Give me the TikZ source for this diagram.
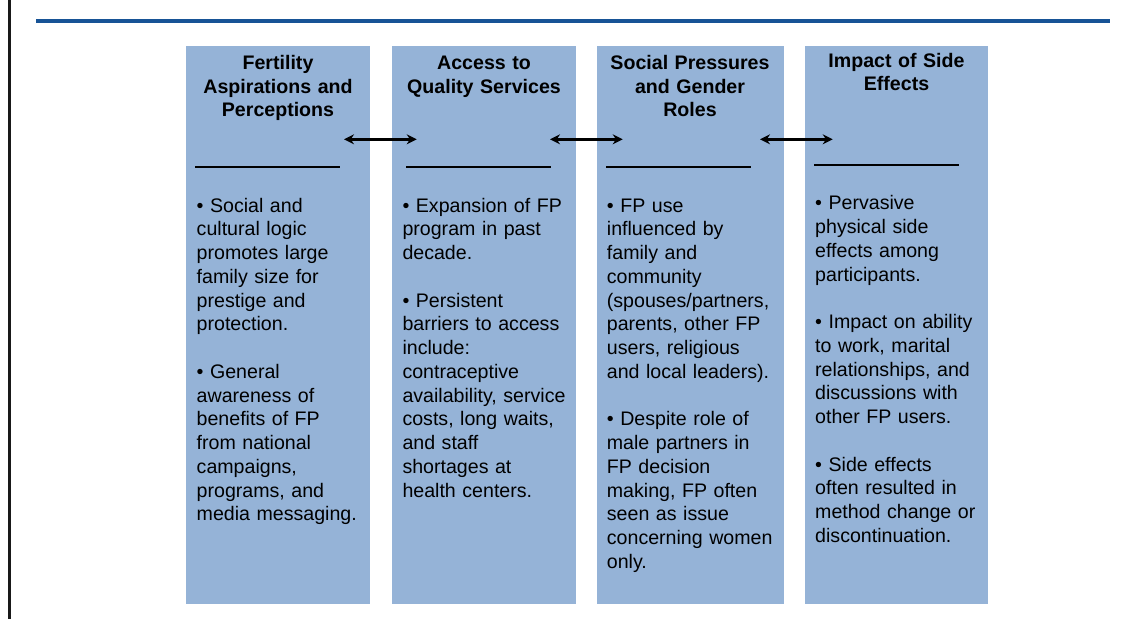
\documentclass[tikz,border=0pt]{standalone}
\usepackage{fontspec}
\setmainfont{Liberation Sans}
\usetikzlibrary{arrows.meta}
\definecolor{boxblue}{HTML}{95B3D7}
\definecolor{ruleblue}{RGB}{23,83,150}
\tikzset{
  colbox/.style={draw=none, fill=boxblue, inner sep=0, anchor=north west},
  headtxt/.style={anchor=base, align=center, text width=180pt, inner sep=0, font=\bfseries\fontsize{19.6}{23.6}\selectfont},
  bodytxt/.style={anchor=base west, align=left, text width=178pt, inner sep=0, font=\fontsize{19.6}{23.75}\selectfont},
  uline/.style={line width=2.4pt, black},
  dblarrow/.style={line width=2.4pt, {Stealth[length=10pt,width=10pt]}-{Stealth[length=10pt,width=10pt]}}
}
\begin{document}
\begin{tikzpicture}[x=1pt,y=-1pt]
\useasboundingbox (0,0) rectangle (1127,619);
% frame lines
\coordinate (vtop) at (9.5,0);
\coordinate (vbot) at (9.5,619);
\draw[line width=3pt, black!90] (vtop) -- (vbot);
\coordinate (hl) at (36,20.5);
\coordinate (hr) at (1110,20.5);
\draw[line width=4pt, ruleblue] (hl) -- (hr);
% boxes
\node[colbox, minimum width=184, minimum height=557.5] (b1) at (186,46) {};
\node[colbox, minimum width=184, minimum height=557.5] (b2) at (392,46) {};
\node[colbox, minimum width=187, minimum height=557.5] (b3) at (597,46) {};
\node[colbox, minimum width=183, minimum height=557.5] (b4) at (805,46) {};
% headings
\node[headtxt] (h1) at (278,69.5) {Fertility\\Aspirations and\\Perceptions};
\node[headtxt] (h2) at (484,69.5) {Access to\\Quality Services};
\node[headtxt] (h3) at (690,69.5) {Social Pressures\\and Gender\\Roles};
\node[headtxt] (h4) at (896.5,67) {Impact of Side\\Effects};
% arrows
\coordinate (a1s) at (344,139.3);
\coordinate (a1e) at (416.7,139.3);
\coordinate (a2s) at (550,139.3);
\coordinate (a2e) at (622.7,139.3);
\coordinate (a3s) at (760,139.3);
\coordinate (a3e) at (832.7,139.3);
\draw[dblarrow] (a1s) -- (a1e);
\draw[dblarrow] (a2s) -- (a2e);
\draw[dblarrow] (a3s) -- (a3e);
% underlines
\draw[uline] (195,166.7) -- (340,166.7);
\draw[uline] (406,166.7) -- (551,166.7);
\draw[uline] (606,166.7) -- (750.7,166.7);
\draw[uline] (814,165) -- (959,165);
% body texts
\node[bodytxt] (t1) at (196.5,212) {• Social and\\cultural logic\\promotes large\\family size for\\prestige and\\protection.\\[23.75pt]• General\\awareness of\\benefits of FP\\from national\\campaigns,\\programs, and\\media messaging.};
\node[bodytxt] (t2) at (402.3,212) {• Expansion of FP\\program in past\\decade.\\[23.75pt]• Persistent\\barriers to access\\include:\\contraceptive\\availability, service\\costs, long waits,\\and staff\\shortages at\\health centers.};
\node[bodytxt] (t3) at (606.7,212) {• FP use\\influenced by\\family and\\community\\(spouses/partners,\\parents, other FP\\users, religious\\and local leaders).\\[23.75pt]• Despite role of\\male partners in\\FP decision\\making, FP often\\seen as issue\\concerning women\\only.};
\node[bodytxt] (t4) at (815,209.8) {• Pervasive\\physical side\\effects among\\participants.\\[23.75pt]• Impact on ability\\to work, marital\\relationships, and\\discussions with\\other FP users.\\[23.75pt]• Side effects\\often resulted in\\method change or\\discontinuation.};
\end{tikzpicture}
\end{document}
